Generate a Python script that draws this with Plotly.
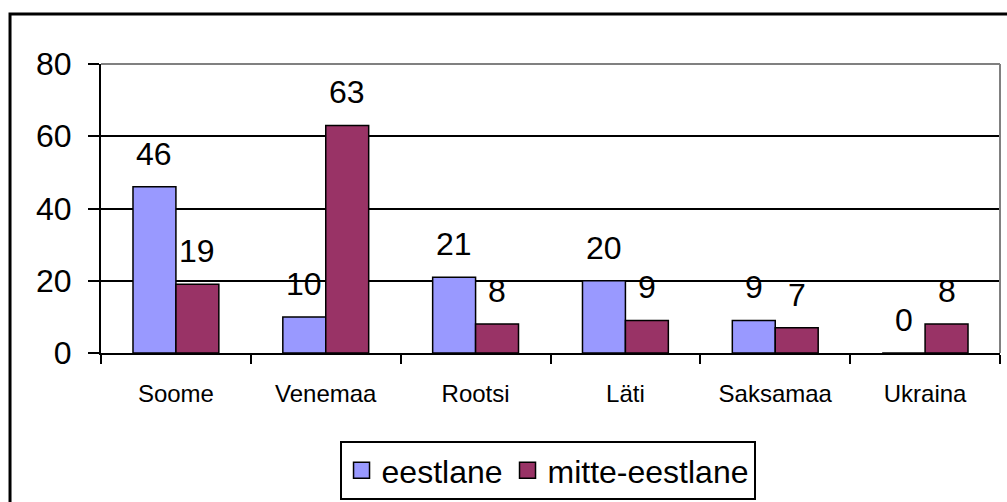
import plotly.graph_objects as go

# Survey data: countries and counts per group
countries = ["Soome", "Venemaa", "Rootsi", "Läti", "Saksamaa", "Ukraina"]
eestlane = [46, 10, 21, 20, 9, 0]
mitte_eestlane = [19, 63, 8, 9, 7, 8]
series_names = ["eestlane", "mitte-eestlane"]
y_ticks = [0, 20, 40, 60, 80]

COL_A = "#9999FF"
COL_B = "#993366"
FONT = "Liberation Sans, Arial, sans-serif"

fig = go.Figure()

for name, vals, col in [(series_names[0], eestlane, COL_A),
                        (series_names[1], mitte_eestlane, COL_B)]:
    fig.add_trace(go.Bar(
        x=countries, y=vals, name=name,
        marker=dict(color=col, line=dict(color="black", width=1.5)),
        showlegend=False,
    ))
    # legend entry with a larger square swatch
    fig.add_trace(go.Scatter(
        x=[None], y=[None], mode="markers", name=name,
        marker=dict(symbol="square", size=20, color=col,
                    line=dict(color="black", width=1.5)),
    ))

# value labels above each bar
annotations = []
for vals, shift in [(eestlane, -21.5), (mitte_eestlane, 21.5)]:
    for c, v in zip(countries, vals):
        annotations.append(dict(
            x=c, y=v, xref="x", yref="y", text=str(v), showarrow=False,
            xshift=shift, yshift=13, yanchor="bottom",
            font=dict(family=FONT, size=32, color="black"),
        ))

shapes = [
    # outer chart frame
    dict(type="rect", xref="paper", yref="paper",
         x0=-0.1012, x1=1.03, y0=-0.7, y1=1.173,
         line=dict(color="black", width=3), layer="above"),
    # plot area border (top and right sides)
    dict(type="line", xref="paper", yref="paper", x0=0, x1=1, y0=1, y1=1,
         line=dict(color="#808080", width=2), layer="above"),
    dict(type="line", xref="paper", yref="paper", x0=1, x1=1, y0=0, y1=1,
         line=dict(color="#808080", width=2), layer="above"),
]

fig.update_layout(
    width=1007, height=502,
    margin=dict(l=101, r=7, t=64, b=149, autoexpand=False),
    paper_bgcolor="white", plot_bgcolor="white",
    barmode="group", bargap=0.427, bargroupgap=0,
    font=dict(family=FONT, color="black"),
    annotations=annotations,
    shapes=shapes,
    legend=dict(
        orientation="h", x=0.4967, xanchor="center", y=-0.3045, yanchor="top",
        bordercolor="black", borderwidth=2, bgcolor="white",
        font=dict(family=FONT, size=32, color="black"),
        itemsizing="trace", tracegroupgap=0, itemwidth=30,
    ),
)

fig.update_xaxes(
    type="category", showline=True, linecolor="black", linewidth=2,
    ticks="outside", tickson="boundaries", ticklen=9, tickwidth=2,
    tickcolor="black", showgrid=False, automargin=False,
    tickfont=dict(family=FONT, size=24, color="black"),
    ticklabelstandoff=18,
)
fig.update_yaxes(
    range=[0, 80], tickvals=y_ticks, showline=True, linecolor="black",
    linewidth=2, ticks="outside", ticklen=11, tickwidth=2, tickcolor="black",
    showgrid=True, gridcolor="black", gridwidth=2, zeroline=False,
    automargin=False,
    tickfont=dict(family=FONT, size=32, color="black"),
    ticklabelstandoff=10,
)

fig.write_html("out.html")
